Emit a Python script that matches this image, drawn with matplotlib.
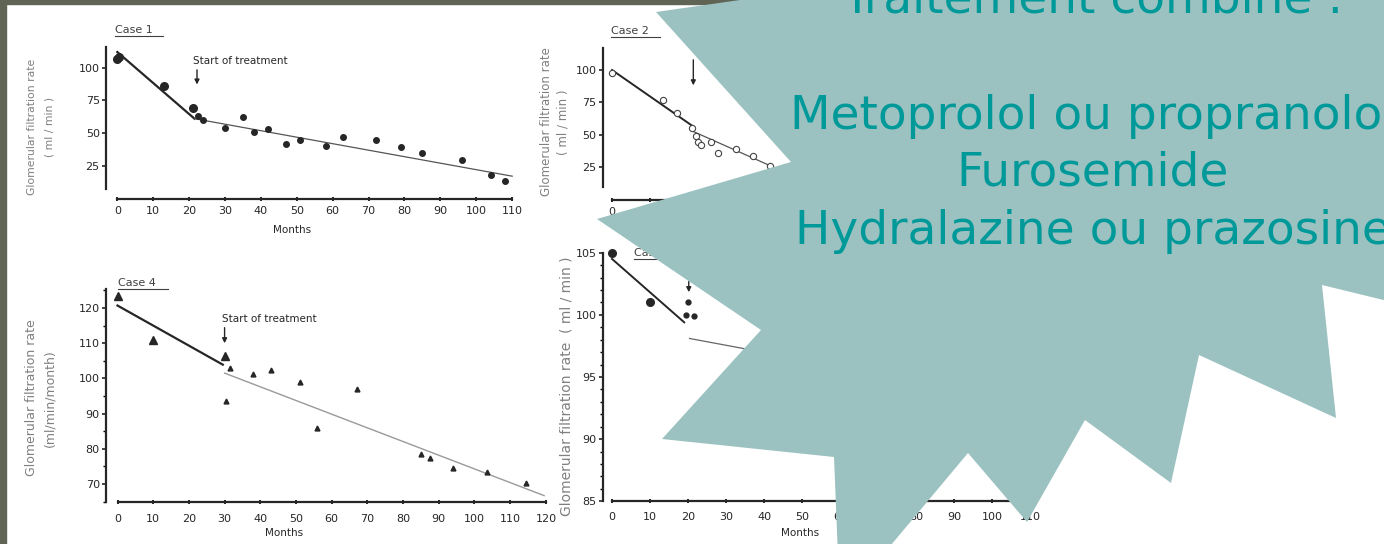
import matplotlib
matplotlib.use("Agg")
import matplotlib.pyplot as plt
from matplotlib.patches import Polygon, Rectangle
from matplotlib.lines import Line2D
from matplotlib.ticker import MultipleLocator

W, H = 1384, 544

# values
c1_months = [0, 0.5, 13, 21, 22.5, 24, 30, 35, 38, 42, 47, 51, 58, 63, 72, 79, 85, 96, 104, 108]
c1_gfr = [107, 108, 86, 69.5, 63, 60, 54, 62, 51, 53, 42, 45, 40, 47, 45, 39, 35, 29, 18, 13]
c1_pre_x, c1_pre_y = [0, 21.5], [112, 61]
c1_post_x, c1_post_y = [21.5, 110], [61, 17]

c2_months = [0, 13.5, 17, 21, 22, 22.5, 23.5, 26, 28, 32.5, 37, 41.5]
c2_gfr = [98, 77, 67, 55, 49, 44, 42, 44, 36, 39, 33.5, 26]
c2_pre_x, c2_pre_y = [0, 21.2], [100, 56.7]
c2_post_x, c2_post_y = [21.5, 42], [52.3, 25.5]

c3_months = [0, 10, 20, 19.5, 21.7]
c3_gfr = [105, 101, 101, 100, 99.9]
c3_pre_x, c3_pre_y = [0, 19], [104.5, 99.4]
c3_post_x, c3_post_y = [20.4, 45], [98.1, 96.7]

c4_months = [0, 10, 30, 31.5, 30.5, 38, 43, 51, 56, 67, 85, 87.5, 94, 103.5, 114.5]
c4_gfr = [123.5, 111, 106.5, 103, 93.5, 101.3, 102.5, 99, 86, 97, 78.6, 77.5, 74.5, 73.5, 70.3]
c4_pre_x, c4_pre_y = [0, 29.5], [120.7, 103.9]
c4_post_x, c4_post_y = [30, 119.5], [101.5, 66.7]

slide_lines = ["Traitement combiné :", "Metoprolol ou propranolol", "Furosemide",
               "Hydralazine ou prazosine"]

INK = "#262626"
GREY = "#808080"

fig = plt.figure(figsize=(W / 100, H / 100), dpi=100)
fig.patch.set_facecolor("white")


def fx(x):
    return x / W


def fy(y):
    return 1 - y / H


def panel(x0, sx, yv, ypx, sy, xlim, ylim, xpad=3):
    # place an axes so that data units land on the scanned pixel grid
    left = x0 + xlim[0] * sx
    right = x0 + xlim[1] * sx
    top = ypx - (ylim[1] - yv) * sy
    bottom = ypx - (ylim[0] - yv) * sy
    ax = fig.add_axes([fx(left), fy(bottom), (right - left) / W, (bottom - top) / H])
    ax.set_xlim(xlim)
    ax.set_ylim(ylim)
    ax.patch.set_visible(False)
    ax.spines["top"].set_visible(False)
    ax.spines["right"].set_visible(False)
    for s in ("left", "bottom"):
        ax.spines[s].set_linewidth(1.6)
        ax.spines[s].set_color(INK)
    ax.tick_params(axis="y", direction="out", length=3, width=1.2, labelsize=8,
                   colors=INK, pad=1.5)
    ax.tick_params(axis="x", direction="inout", length=3, width=1.4, labelsize=8,
                   colors=INK, pad=xpad)
    ax.tick_params(which="minor", direction="out", length=2, width=1)
    return ax


def spines(ax, xs, ybounds, ys, xbounds):
    ax.spines["left"].set_position(("data", xs))
    ax.spines["left"].set_bounds(*ybounds)
    ax.spines["bottom"].set_position(("data", ys))
    ax.spines["bottom"].set_bounds(*xbounds)


def case_label(x, y, w, txt):
    fig.text(fx(x), fy(y), txt, fontsize=8, color="#404040", ha="left", va="center")
    fig.add_artist(Line2D([fx(x), fx(x + w)], [fy(y + 6), fy(y + 6)], color="#404040",
                          lw=0.8, transform=fig.transFigure))


def arrow(ax, x, y0, y1):
    ax.annotate("", xy=(x, y1), xytext=(x, y0),
                arrowprops=dict(arrowstyle="-|>", color=INK, lw=1, mutation_scale=7))


def ylabel(x, y, txt, size):
    fig.text(fx(x), fy(y), txt, rotation=90, fontsize=size, color=GREY,
             ha="center", va="center")


# Case 1
ax1 = panel(117.3, 3.59, 100, 67.7, 1.307, (-5, 113), (-3, 120))
spines(ax1, -3.15, (7, 116), -0.7, (0, 110))
ax1.set_xticks(range(0, 111, 10))
ax1.set_yticks([25, 50, 75, 100])
ax1.plot(c1_pre_x, c1_pre_y, color=INK, lw=1.6)
ax1.plot(c1_post_x, c1_post_y, color="#555555", lw=0.9)
ax1.plot(c1_months, c1_gfr, "o", color=INK, ms=4)
ax1.plot(c1_months[:4], c1_gfr[:4], "o", color=INK, ms=5.5)
arrow(ax1, 22.2, 100.5, 85)
ax1.text(21.1, 105.4, "Start of treatment", fontsize=7.5, color=INK, va="center")
fig.text(fx(292), fy(230), "Months", fontsize=7.5, color=INK, ha="center", va="center")
ylabel(32, 127, "Glomerular filtration rate", 7.8)
ylabel(49, 127, "( ml / min )", 7.8)
case_label(115, 30, 48, "Case 1")

# Case 4
ax4 = panel(117.5, 3.57, 120, 308, 3.52, (-5, 123), (63, 127), xpad=7)
spines(ax4, -3.2, (64.9, 125.3), 64.9, (0, 120))
ax4.set_xticks(range(0, 121, 10))
ax4.set_yticks(range(70, 121, 10))
ax4.yaxis.set_minor_locator(MultipleLocator(5))
ax4.plot(c4_pre_x, c4_pre_y, color=INK, lw=1.6)
ax4.plot(c4_post_x, c4_post_y, color="#9a9a9a", lw=1)
ax4.plot(c4_months, c4_gfr, "^", color=INK, ms=3.5)
ax4.plot(c4_months[:3], c4_gfr[:3], "^", color=INK, ms=6)
arrow(ax4, 30, 115.2, 109.2)
ax4.text(29.3, 116.9, "Start of treatment", fontsize=7.5, color=INK, va="center")
fig.text(fx(284), fy(533), "Months", fontsize=7.5, color=INK, ha="center", va="center")
ylabel(32, 398, "Glomerular filtration rate", 9)
ylabel(50, 398, "(ml/min/month)", 9)
case_label(118, 283, 50, "Case 4")

# Case 2 (only the start of its x axis shows beside the callout)
ax2 = panel(612, 3.8, 100, 70, 1.293, (-4, 112), (-3, 120))
spines(ax2, -2.45, (9.5, 117), -0.75, (0, 40))
ax2.set_xticks([0, 10])
ax2.set_xticklabels(["0", ""])
ax2.set_yticks([25, 50, 75, 100])
ax2.plot(c2_pre_x, c2_pre_y, color=INK, lw=1.4)
ax2.plot(c2_post_x, c2_post_y, color="#555555", lw=0.9)
ax2.plot(c2_months, c2_gfr, "o", mfc="white", mec="#444444", mew=0.8, ms=4.5)
arrow(ax2, 21.4, 110, 86)
ylabel(547, 122, "Glomerular filtration rate", 8.5)
ylabel(563, 122, "( ml / min )", 8.5)
case_label(611, 31, 49, "Case 2")

# Case 3
ax3 = panel(612, 3.8, 105, 252.7, 12.43, (-4, 112), (84.5, 105.6), xpad=6)
spines(ax3, -2.45, (85, 105), 85, (0, 110))
ax3.set_xticks(range(0, 111, 10))
ax3.set_yticks(range(85, 106, 5))
ax3.yaxis.set_minor_locator(MultipleLocator(1))
ax3.plot(c3_pre_x, c3_pre_y, color=INK, lw=1.4)
ax3.plot(c3_post_x, c3_post_y, color="#666666", lw=0.9)
ax3.plot(c3_months, c3_gfr, "o", color=INK, ms=3.5)
ax3.plot(c3_months[:2], c3_gfr[:2], "o", color=INK, ms=5.5)
arrow(ax3, 20.2, 102.9, 101.6)
fig.text(fx(800), fy(533), "Months", fontsize=7.5, color=INK, ha="center", va="center")
ylabel(566, 386, "Glomerular filtration rate  ( ml / min )", 10)
case_label(634, 253, 45, "Case 3")

# slide frame
olive = "#5f6455"
fig.add_artist(Rectangle((0, 0), fx(6), 1, transform=fig.transFigure, color=olive, zorder=9))
fig.add_artist(Rectangle((0, fy(4)), 1, 4 / H, transform=fig.transFigure, color=olive,
                         zorder=9))

# starburst callout (outline in slide pixels)
burst = [(656, 12), (810, -10), (1400, -10), (1400, 304), (1322, 285), (1336, 418),
         (1199, 355), (1171, 483), (1085, 420), (1027, 522), (968, 453), (840, 606),
         (834, 457), (662, 439), (761, 330), (597, 219), (791, 162)]
fig.add_artist(Polygon([(fx(x), fy(y)) for x, y in burst], closed=True,
                       transform=fig.transFigure, facecolor="#9bc2c1", edgecolor="none",
                       zorder=10))

for txt, base in zip(slide_lines, [14, 129, 186, 244]):
    fig.text(fx(1093), fy(base), txt, fontsize=33.8, color="#009999", ha="center",
             va="baseline", family="DejaVu Sans", zorder=11)

fig.savefig("out.png", dpi=100)
